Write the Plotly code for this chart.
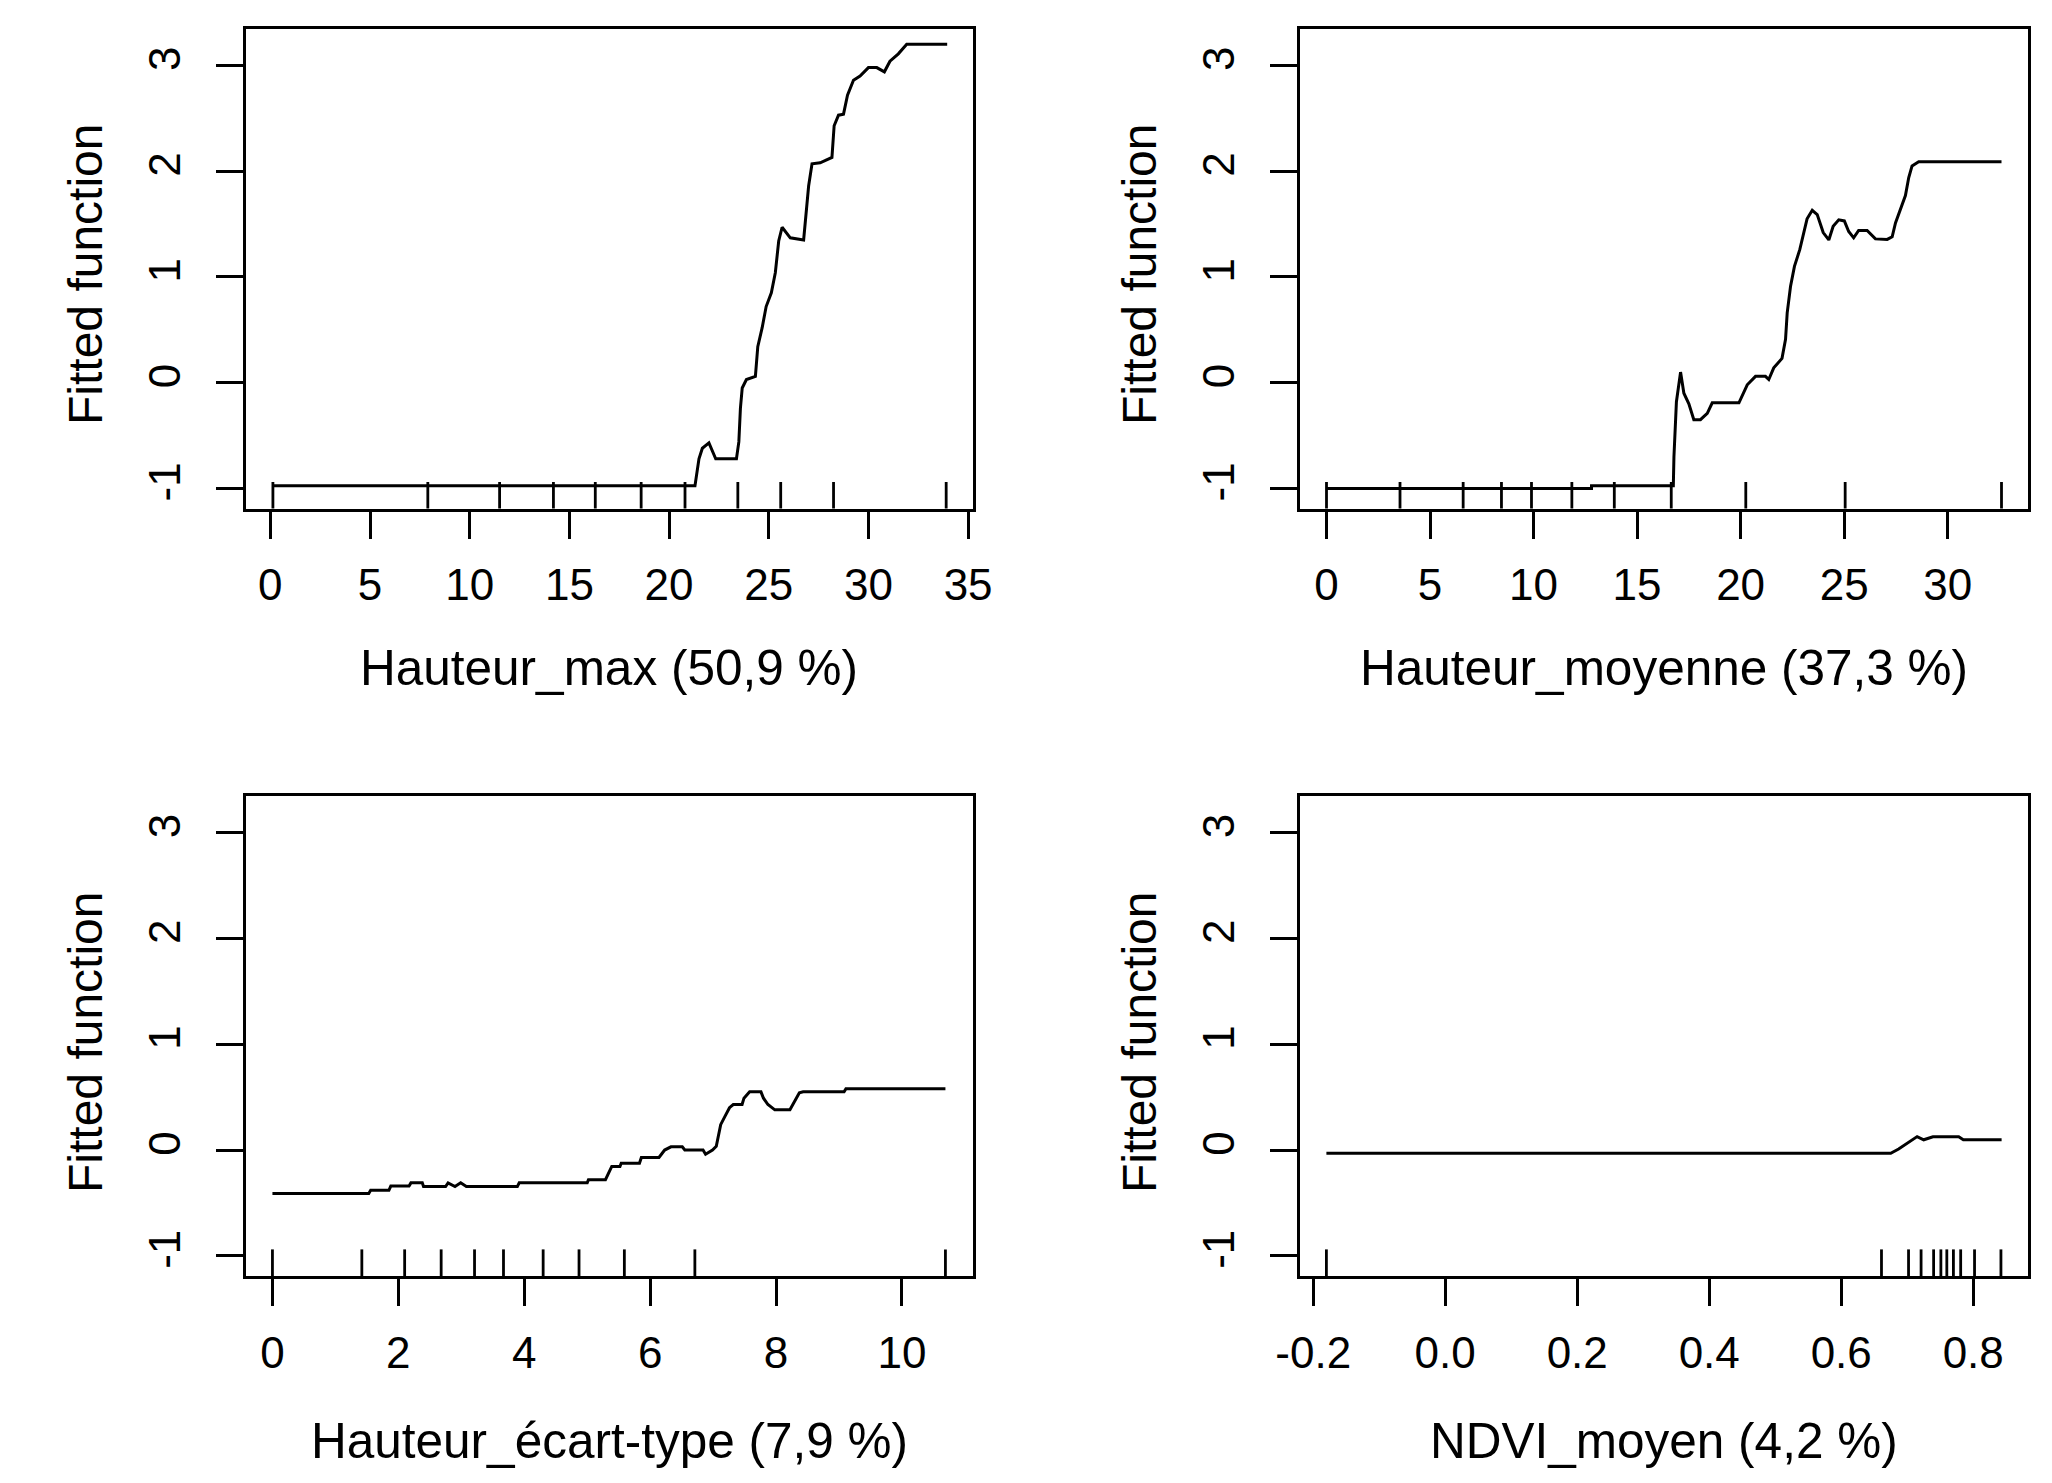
import plotly.graph_objects as go

# ---------------- data ----------------
hmax_x = [0.13, 21.3, 21.5, 21.67, 22.0, 22.34, 23.38, 23.5, 23.58, 23.67, 23.88, 24.33, 24.45,
          24.67, 24.87, 25.13, 25.33, 25.5, 25.67, 26.08, 26.75, 26.83, 27.0, 27.17, 27.58, 28.17,
          28.28, 28.5, 28.75, 28.95, 29.25, 29.58, 30.0, 30.42, 30.8, 31.08, 31.5, 31.92, 33.95]
hmax_y = [-0.975, -0.975, -0.72, -0.62, -0.57, -0.72, -0.72, -0.56, -0.24, -0.05, 0.03, 0.06, 0.34,
          0.52, 0.72, 0.85, 1.04, 1.34, 1.47, 1.37, 1.35, 1.53, 1.86, 2.07, 2.08, 2.13,
          2.43, 2.53, 2.54, 2.72, 2.86, 2.9, 2.98, 2.98, 2.94, 3.04, 3.11, 3.2, 3.2]
hmax_rug = [0.13, 7.9, 11.5, 14.2, 16.3, 18.6, 20.8, 23.45, 25.6, 28.25, 33.9]

hmoy_x = [0.0, 12.8, 12.8, 16.75, 16.78, 16.9, 17.1, 17.26, 17.5, 17.74, 18.06, 18.39, 18.63, 19.92,
          20.32, 20.72, 21.2, 21.36, 21.6, 22.0, 22.17, 22.25, 22.41, 22.6, 22.86, 23.05, 23.21,
          23.46, 23.7, 23.99, 24.26, 24.47, 24.74, 25.01, 25.22, 25.46, 25.7, 26.11, 26.51, 27.08,
          27.32, 27.48, 27.72, 27.96, 28.12, 28.28, 28.6, 32.6]
hmoy_y = [-1.0, -1.0, -0.975, -0.975, -0.70, -0.18, 0.1, -0.1, -0.2, -0.35, -0.35, -0.29, -0.19, -0.19,
          -0.02, 0.06, 0.06, 0.03, 0.14, 0.23, 0.41, 0.66, 0.91, 1.1, 1.26, 1.42, 1.55,
          1.63, 1.59, 1.42, 1.35, 1.48, 1.54, 1.53, 1.43, 1.37, 1.44, 1.44, 1.36, 1.355,
          1.38, 1.51, 1.64, 1.77, 1.94, 2.05, 2.09, 2.09]
hmoy_rug = [0.0, 3.55, 6.6, 8.45, 9.9, 11.85, 13.9, 16.65, 20.25, 25.05, 32.6]

hsd_x = [0, 1.53, 1.56, 1.85, 1.88, 2.17, 2.2, 2.38, 2.4, 2.75, 2.79, 2.9, 2.99, 3.08, 3.89, 3.92,
         5.0, 5.02, 5.29, 5.39, 5.52, 5.54, 5.83, 5.86, 6.14, 6.23, 6.33, 6.51, 6.55, 6.84, 6.88,
         6.99, 7.05, 7.09, 7.12, 7.19, 7.26, 7.32, 7.46, 7.49, 7.58, 7.76, 7.8, 7.87, 7.98, 8.22,
         8.3, 8.37, 8.43, 9.08, 9.11, 10.69]
hsd_y = [-0.41, -0.41, -0.38, -0.38, -0.34, -0.34, -0.31, -0.31, -0.345, -0.345, -0.31, -0.345, -0.31,
         -0.345, -0.345, -0.31, -0.31, -0.28, -0.28, -0.155, -0.155, -0.125, -0.125, -0.07, -0.07,
         0.0, 0.03, 0.03, 0.0, 0.0, -0.04, 0.0, 0.035, 0.16, 0.24, 0.32, 0.4, 0.43, 0.43, 0.49,
         0.55, 0.55, 0.49, 0.43, 0.38, 0.38, 0.46, 0.54, 0.55, 0.55, 0.58, 0.58]
hsd_rug = [0.0, 1.42, 2.1, 2.68, 3.21, 3.67, 4.3, 4.87, 5.59, 6.71, 10.69]

ndvi_x = [-0.18, 0.675, 0.687, 0.70, 0.715, 0.725, 0.739, 0.778, 0.785, 0.843]
ndvi_y = [-0.03, -0.03, 0.01, 0.067, 0.127, 0.097, 0.125, 0.125, 0.097, 0.097]
ndvi_rug = [-0.18, 0.661, 0.702, 0.721, 0.740, 0.751, 0.760, 0.770, 0.781, 0.802, 0.842]

titles = ["Hauteur_max (50,9 %)", "Hauteur_moyenne (37,3 %)",
          "Hauteur_écart-type (7,9 %)", "NDVI_moyen (4,2 %)"]
y_label = "Fitted function"

y_ticks = [-1, 0, 1, 2, 3]
x_ticks_1 = [0, 5, 10, 15, 20, 25, 30, 35]
x_ticks_2 = [0, 5, 10, 15, 20, 25, 30]
x_ticks_3 = [0, 2, 4, 6, 8, 10]
x_ticks_4 = [-0.2, 0.0, 0.2, 0.4, 0.6, 0.8]
x_ticktext_4 = ["-0.2", "0.0", "0.2", "0.4", "0.6", "0.8"]

# ---------------- layout ----------------
W, H = 2052, 1483
OFF = 8  # page body margin offset
Y_RANGE = [-1.19, 3.345]
x_ranges = [[-1.22, 35.22], [-1.28, 33.88], [-0.42, 11.12], [-0.22, 0.883]]

col_px = [(246, 972.5), (1300, 2028)]
row_px = [(29, 508.5), (796, 1276)]

def px_x(p):
    return (p - OFF) / W

def px_y(p):
    return 1 - (p - OFF) / H

def xdom(c):
    return [px_x(col_px[c][0]), px_x(col_px[c][1])]

def ydom(r):
    return [px_y(row_px[r][1]), px_y(row_px[r][0])]

panels = [
    (hmax_x, hmax_y, hmax_rug, x_ticks_1, [str(v) for v in x_ticks_1], 0, 0),
    (hmoy_x, hmoy_y, hmoy_rug, x_ticks_2, [str(v) for v in x_ticks_2], 0, 1),
    (hsd_x, hsd_y, hsd_rug, x_ticks_3, [str(v) for v in x_ticks_3], 1, 0),
    (ndvi_x, ndvi_y, ndvi_rug, x_ticks_4, x_ticktext_4, 1, 1),
]

TICK_FONT = dict(family="Liberation Sans Narrow, Arial Narrow, Liberation Sans, Arial, sans-serif",
                 size=44, color="black")
TITLE_FONT = dict(family="Liberation Sans, Arial, sans-serif", size=49.5, color="black")
YTITLE_FONT = dict(family="Liberation Sans, Arial, sans-serif", size=48, color="black")

fig = go.Figure()
layout = dict(width=W, height=H,
              margin=dict(l=0, r=0, t=0, b=0, pad=0, autoexpand=False),
              paper_bgcolor="white", plot_bgcolor="white", showlegend=False,
              hovermode=False)
annotations = []

for i, (xs, ys, rug, xt, xtt, r, c) in enumerate(panels):
    n = i + 1
    xa = "x" if n == 1 else f"x{n}"
    ya = "y" if n == 1 else f"y{n}"
    fig.add_trace(go.Scatter(x=xs, y=ys, mode="lines", xaxis=xa, yaxis=ya,
                             line=dict(color="black", width=3)))
    fig.add_trace(go.Scatter(x=rug, y=[Y_RANGE[0]] * len(rug), mode="markers",
                             xaxis=xa, yaxis=ya, cliponaxis=True,
                             marker=dict(symbol="line-ns", size=38, color="black",
                                         line=dict(color="black", width=2.8))))
    axis_common = dict(showline=True, linecolor="black", linewidth=3, mirror=True,
                       showgrid=False, zeroline=False, ticks="outside", ticklen=27,
                       tickwidth=2.6, tickcolor="black", tickfont=TICK_FONT,
                       automargin=False)
    layout["xaxis" if n == 1 else f"xaxis{n}"] = dict(
        domain=xdom(c), range=x_ranges[i], anchor=ya, tickmode="array",
        tickvals=xt, ticktext=xtt, ticklabelstandoff=9, **axis_common)
    layout["yaxis" if n == 1 else f"yaxis{n}"] = dict(
        domain=ydom(r), range=Y_RANGE, anchor=xa, tickmode="array",
        tickvals=y_ticks, ticktext=[str(v) for v in y_ticks], tickangle=-90,
        ticklabelstandoff=18, **axis_common)
    cx = px_x((col_px[c][0] + col_px[c][1]) / 2)
    ty = [668, 1440][r]
    annotations.append(dict(text=titles[i], xref="paper", yref="paper", x=cx, y=px_y(ty),
                            xanchor="center", yanchor="middle", showarrow=False,
                            font=TITLE_FONT))
    yx = [85, 1139][c]
    yy = [274, 1042][r]
    annotations.append(dict(text=y_label, xref="paper", yref="paper", x=px_x(yx), y=px_y(yy),
                            xanchor="center", yanchor="middle", textangle=-90,
                            showarrow=False, font=YTITLE_FONT))

layout["annotations"] = annotations
fig.update_layout(**layout)
fig.write_html("out.html")
